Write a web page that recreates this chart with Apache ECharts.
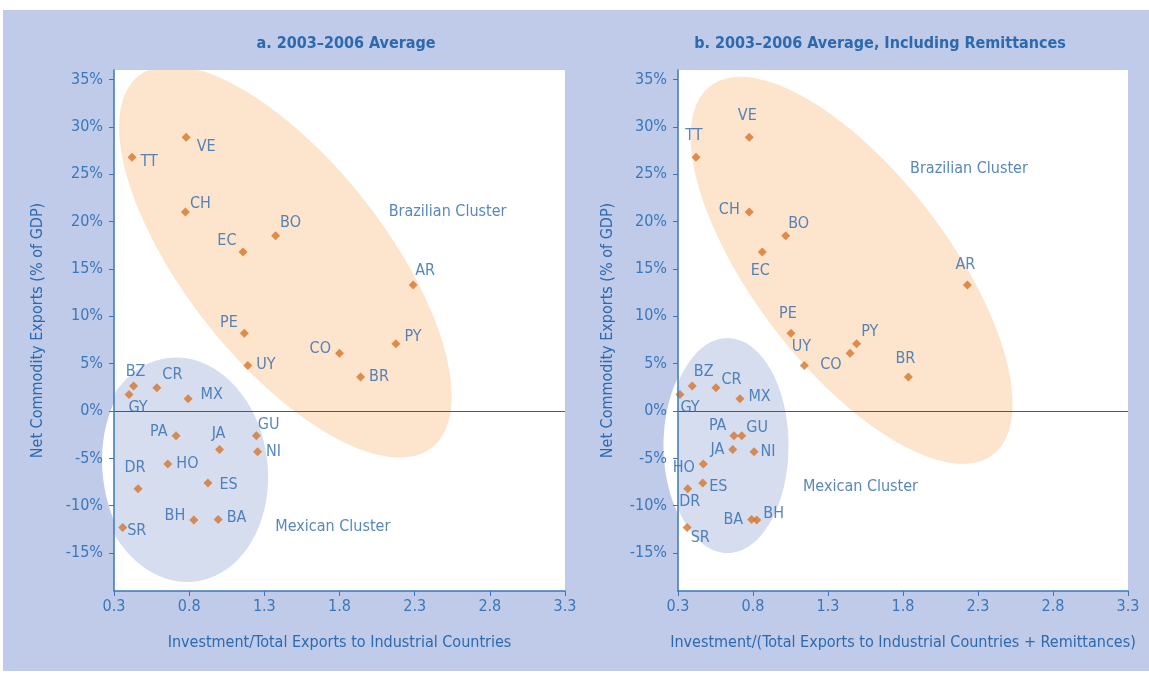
<!DOCTYPE html>
<html>
<head>
<meta charset="utf-8">
<script src="https://cdn.jsdelivr.net/npm/echarts@6/dist/echarts.min.js"></script>
<style>
html,body{margin:0;padding:0;background:#ffffff;}
#chart{width:1149px;height:675px;}
</style>
</head>
<body>
<div id="chart"></div>
<script>
// ---------------- data ----------------
var countries = ['TT','VE','CH','BO','EC','AR','PE','PY','CO','UY','BR','BZ','CR','GY','MX','PA','GU','JA','NI','HO','ES','DR','BH','BA','SR'];
// Net commodity exports, % of GDP (same in both panels)
var netExports = [26.8, 28.9, 21.0, 18.5, 16.8, 13.3, 8.2, 7.1, 6.1, 4.8, 3.6, 2.65, 2.45, 1.75, 1.3, -2.6, -2.6, -4.05, -4.3, -5.6, -7.6, -8.2, -11.5, -11.45, -12.3];
// Panel a: Investment / total exports to industrial countries
var investA = [0.42, 0.78, 0.775, 1.375, 1.158, 2.29, 1.167, 2.175, 1.80, 1.19, 1.94, 0.43, 0.585, 0.40, 0.793, 0.713, 1.247, 1.002, 1.255, 0.658, 0.925, 0.46, 0.831, 0.993, 0.358];
// Panel b: Investment / (total exports to industrial countries + remittances)
var investB = [0.42, 0.775, 0.775, 1.018, 0.862, 2.229, 1.053, 1.491, 1.447, 1.142, 1.836, 0.395, 0.553, 0.313, 0.713, 0.673, 0.725, 0.665, 0.807, 0.469, 0.465, 0.365, 0.825, 0.791, 0.361];

var xTicks = [0.3, 0.8, 1.3, 1.8, 2.3, 2.8, 3.3];
var yTicks = [-15, -10, -5, 0, 5, 10, 15, 20, 25, 30, 35];

var titleA = 'a. 2003\u20132006 Average';
var titleB = 'b. 2003\u20132006 Average, Including Remittances';
var yName = 'Net Commodity Exports (% of GDP)';
var xNameA = 'Investment/Total Exports to Industrial Countries';
var xNameB = 'Investment/(Total Exports to Industrial Countries + Remittances)';

// cluster ellipses: major-axis end points in data units [x1,y1,x2,y2]
var brazilEllipseA = [0.465, 35.4, 2.415, -3.85];
var mexicoEllipseA = [0.66, 5.6, 0.84, -18.0];
var brazilEllipseB = [0.515, 34.3, 2.40, -4.6];
var mexicoEllipseB = [0.63, 7.7, 0.63, -15.0];
// cluster caption anchors (data units)
var clusterTextA = [['Brazilian Cluster', 2.127, 21.0], ['Mexican Cluster', 1.373, -12.2]];
var clusterTextB = [['Brazilian Cluster', 1.847, 25.6], ['Mexican Cluster', 1.133, -8.0]];

// ---------------- styling ----------------
var FONT = "'Liberation Sans Narrow','DejaVu Sans Condensed','Open Sans',sans-serif";
var BLUE_TEXT = '#2d69ae';
var AXIS_BLUE = '#3a77ba';
var MARK = '#d6742a';

var labelPlaceA = {
  TT:['right',[0,5]], VE:['right',[2,10]], CH:['right',[-4,-8]], BO:['right',[-4,-13]],
  EC:['left',[2,-11]], AR:['top',[12,2]], PE:['left',[2,-10]], PY:['right',[0,-7]],
  CO:['left',[0,-4]], UY:['right',[0,-1]], BR:['right',[0,0]], BZ:['top',[2,2]],
  CR:['right',[-3,-13]], GY:['bottom',[9,-3]], MX:['right',[4,-4]], PA:['left',[0,-4]],
  GU:['right',[-7,-11]], JA:['top',[-1,1]], NI:['right',[0,0]], HO:['right',[0,0]],
  ES:['right',[3,2]], DR:['top',[-3,-4]], BH:['left',[0,-4]], BA:['right',[0,-2]],
  SR:['right',[-4,3]]
};
var labelPlaceB = {
  TT:['top',[-2,-5]], VE:['top',[-2,-5]], CH:['left',[-1,-2]], BO:['right',[-6,-12]],
  EC:['bottom',[-2,2]], AR:['top',[-2,-4]], PE:['top',[-3,-3]], PY:['right',[-4,-12]],
  CO:['left',[0,12]], UY:['top',[-3,-2]], BR:['top',[-3,-2]], BZ:['right',[-7,-14]],
  CR:['right',[-3,-8]], GY:['bottom',[10,-3]], MX:['right',[0,-2]], PA:['left',[1,-10]],
  GU:['right',[-4,-8]], JA:['left',[0,0]], NI:['right',[-2,0]], HO:['left',[0,4]],
  ES:['right',[-2,4]], DR:['bottom',[2,-3]], BA:['left',[0,0]], BH:['right',[-2,-6]],
  SR:['right',[-5,10]]
};

function pointData(xs, place) {
  return countries.map(function (c, i) {
    var p = place[c];
    return {
      name: c,
      value: [xs[i], netExports[i]],
      label: { position: p[0], offset: p[1] }
    };
  });
}

// ellipse drawn from its major-axis end points (data) and a minor semi-axis (px),
// optionally clamped to the plotting box
function ellipseRender(clamp) {
  return function (params, api) {
    var p1 = api.coord([api.value(0), api.value(1)]);
    var p2 = api.coord([api.value(2), api.value(3)]);
    var box = params.coordSys;
    var cx = (p1[0] + p2[0]) / 2, cy = (p1[1] + p2[1]) / 2;
    var dx = p2[0] - p1[0], dy = p2[1] - p1[1];
    var a = Math.sqrt(dx * dx + dy * dy) / 2;
    var b = api.value(4);
    var ang = Math.atan2(dy, dx);
    var ca = Math.cos(ang), sa = Math.sin(ang);
    var pts = [];
    for (var k = 0; k < 160; k++) {
      var t = k / 160 * Math.PI * 2;
      var ex = a * Math.cos(t), ey = b * Math.sin(t);
      var px = cx + ex * ca - ey * sa, py = cy + ex * sa + ey * ca;
      if (clamp) {
        px = Math.max(box.x, Math.min(box.x + box.width, px));
        py = Math.max(box.y, Math.min(box.y + box.height, py));
      }
      pts.push([px, py]);
    }
    return { type: 'polygon', shape: { points: pts }, style: { fill: api.visual('color') } };
  };
}

function ellipseSeries(idx, coords, minorPx, color, clamp, z) {
  return {
    type: 'custom', xAxisIndex: idx, yAxisIndex: idx,
    renderItem: ellipseRender(clamp), clip: false, silent: true, z: z,
    itemStyle: { color: color },
    data: [coords.concat([minorPx])],
    encode: { x: [0, 2], y: [1, 3] }
  };
}

function textSeries(idx, items) {
  return {
    type: 'scatter', xAxisIndex: idx, yAxisIndex: idx, symbolSize: 0, silent: true, z: 5,
    label: { show: true, position: 'right', distance: 0, formatter: '{b}', color: BLUE_TEXT,
      fontFamily: FONT, fontSize: 16 },
    data: items.map(function (t) { return { name: t[0], value: [t[1], t[2]] }; })
  };
}

function xAxisCfg(idx, name) {
  return {
    type: 'value', gridIndex: idx, min: 0.3, max: 3.3, z: 10,
    name: name, nameLocation: 'middle', nameGap: 44,
    nameTextStyle: { color: BLUE_TEXT, fontFamily: FONT, fontSize: 16 },
    axisLine: { show: true, onZero: false, lineStyle: { color: AXIS_BLUE, width: 1.5 } },
    axisTick: { show: true, length: 5, customValues: xTicks, lineStyle: { color: AXIS_BLUE } },
    axisLabel: { customValues: xTicks, color: AXIS_BLUE, fontFamily: FONT, fontSize: 16, margin: 8,
      formatter: function (v) { return v.toFixed(1); } },
    splitLine: { show: false }
  };
}
function yAxisCfg(idx, gap) {
  return {
    type: 'value', gridIndex: idx, min: -19, max: 36, z: 10,
    name: yName, nameLocation: 'middle', nameGap: gap, nameRotate: 90,
    nameTextStyle: { color: BLUE_TEXT, fontFamily: FONT, fontSize: 16 },
    axisLine: { show: true, onZero: false, lineStyle: { color: AXIS_BLUE, width: 1.5 } },
    axisTick: { show: true, length: 5, customValues: yTicks, lineStyle: { color: AXIS_BLUE } },
    axisLabel: { customValues: yTicks, color: AXIS_BLUE, fontFamily: FONT, fontSize: 16, margin: 11,
      formatter: function (v) { return v + '%'; } },
    splitLine: { show: false }
  };
}

function zeroLine(idx) {
  return {
    type: 'line', xAxisIndex: idx, yAxisIndex: idx, data: [], z: 1, silent: true,
    markLine: { symbol: 'none', silent: true, label: { show: false },
      lineStyle: { color: '#2a5f9e', width: 1.2, type: 'solid' },
      data: [{ yAxis: 0 }] }
  };
}

function pointSeries(idx, xs, place) {
  return {
    type: 'scatter', xAxisIndex: idx, yAxisIndex: idx, symbol: 'diamond', symbolSize: 9, z: 6,
    itemStyle: { color: MARK },
    label: { show: true, formatter: '{b}', color: BLUE_TEXT, fontFamily: FONT, fontSize: 16, distance: 4 },
    data: pointData(xs, place)
  };
}

var chart = echarts.init(document.getElementById('chart'), null, { renderer: 'canvas' });
chart.setOption({
  animation: false,
  backgroundColor: '#ffffff',
  graphic: [{ type: 'rect', z: -10, shape: { x: 3, y: 10, width: 1146, height: 661 }, style: { fill: '#bfcbe9' } }],
  title: [
    { text: titleA, left: 341, top: 31, textAlign: 'center',
      textStyle: { color: BLUE_TEXT, fontFamily: FONT, fontSize: 16, fontWeight: 'bold' } },
    { text: titleB, left: 875, top: 31, textAlign: 'center',
      textStyle: { color: BLUE_TEXT, fontFamily: FONT, fontSize: 16, fontWeight: 'bold' } }
  ],
  grid: [
    { left: 114, top: 70, right: 584, bottom: 84, show: true, backgroundColor: '#ffffff', borderWidth: 0 },
    { left: 678, top: 70, right: 21, bottom: 84, show: true, backgroundColor: '#ffffff', borderWidth: 0 }
  ],
  xAxis: [xAxisCfg(0, xNameA), xAxisCfg(1, xNameB)],
  yAxis: [yAxisCfg(0, 68), yAxisCfg(1, 62)],
  series: [
    zeroLine(0), zeroLine(1),
    ellipseSeries(0, mexicoEllipseA, 79, '#ffffff', false, 2),
    ellipseSeries(1, mexicoEllipseB, 64, '#ffffff', false, 2),
    ellipseSeries(0, brazilEllipseA, 100, '#fde4cd', true, 3),
    ellipseSeries(0, mexicoEllipseA, 86, '#d5ddef', true, 3),
    ellipseSeries(1, brazilEllipseB, 97, '#fde4cd', true, 3),
    ellipseSeries(1, mexicoEllipseB, 61, '#d5ddef', true, 3),
    textSeries(0, clusterTextA), textSeries(1, clusterTextB),
    pointSeries(0, investA, labelPlaceA), pointSeries(1, investB, labelPlaceB)
  ]
});
</script>
</body>
</html>
